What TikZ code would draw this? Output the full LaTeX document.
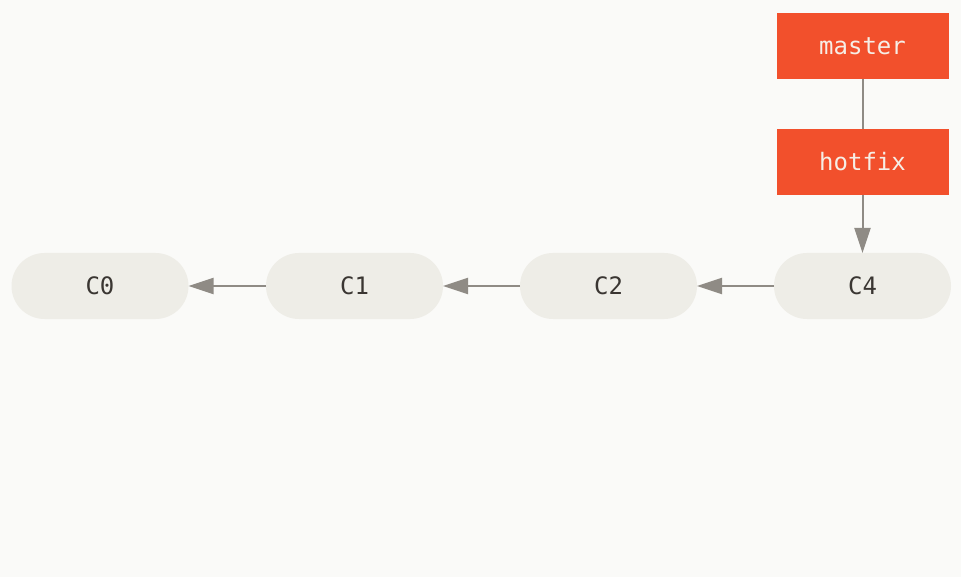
\documentclass[tikz,border=0pt]{standalone}
\usepackage{fontspec}
\setmonofont{DejaVu Sans Mono}
\usetikzlibrary{arrows.meta}
\definecolor{custcol_bg}{RGB}{250, 250, 248}
\definecolor{custcol_commit}{RGB}{238, 237, 231}
\definecolor{custcol_branch}{RGB}{242, 80, 44}
\definecolor{custcol_line}{RGB}{143, 139, 133}
\definecolor{custcol_text}{RGB}{58, 54, 50}
\definecolor{custcol_label}{RGB}{246, 238, 230}
\begin{document}
\begin{tikzpicture}[x=1pt,y=-1pt,
  commit/.style={rectangle, rounded corners=33pt, fill=custcol_commit, minimum width=177pt, minimum height=66pt, inner sep=0, outer sep=0, text=custcol_text, font=\ttfamily\fontsize{24pt}{24pt}\selectfont},
  branch/.style={rectangle, fill=custcol_branch, minimum width=172pt, minimum height=66pt, inner sep=0, outer sep=0, text=custcol_label, font=\ttfamily\fontsize{24pt}{24pt}\selectfont},
  link/.style={draw=custcol_line, line width=2pt, -{Triangle[length=25pt,width=16pt]}}]
\fill [custcol_bg] (0.0,0.0) rectangle (961.0,577.0);
% commits
\node [commit] (c0) at (100.0,286.0) {C0};
\node [commit] (c1) at (354.5,286.0) {C1};
\node [commit] (c2) at (608.5,286.0) {C2};
\node [commit] (c4) at (862.5,286.0) {C4};
% branches
\node [branch] (master) at (862.5,46.0) {master};
\node [branch] (hotfix) at (862.5,162.0) {hotfix};
% history
\draw [link] (c1) -- (c0);
\draw [link] (c2) -- (c1);
\draw [link] (c4) -- (c2);
\draw [draw=custcol_line, line width=2pt] (master) -- (hotfix);
\draw [link] (hotfix) -- (c4);
\end{tikzpicture}
\end{document}
